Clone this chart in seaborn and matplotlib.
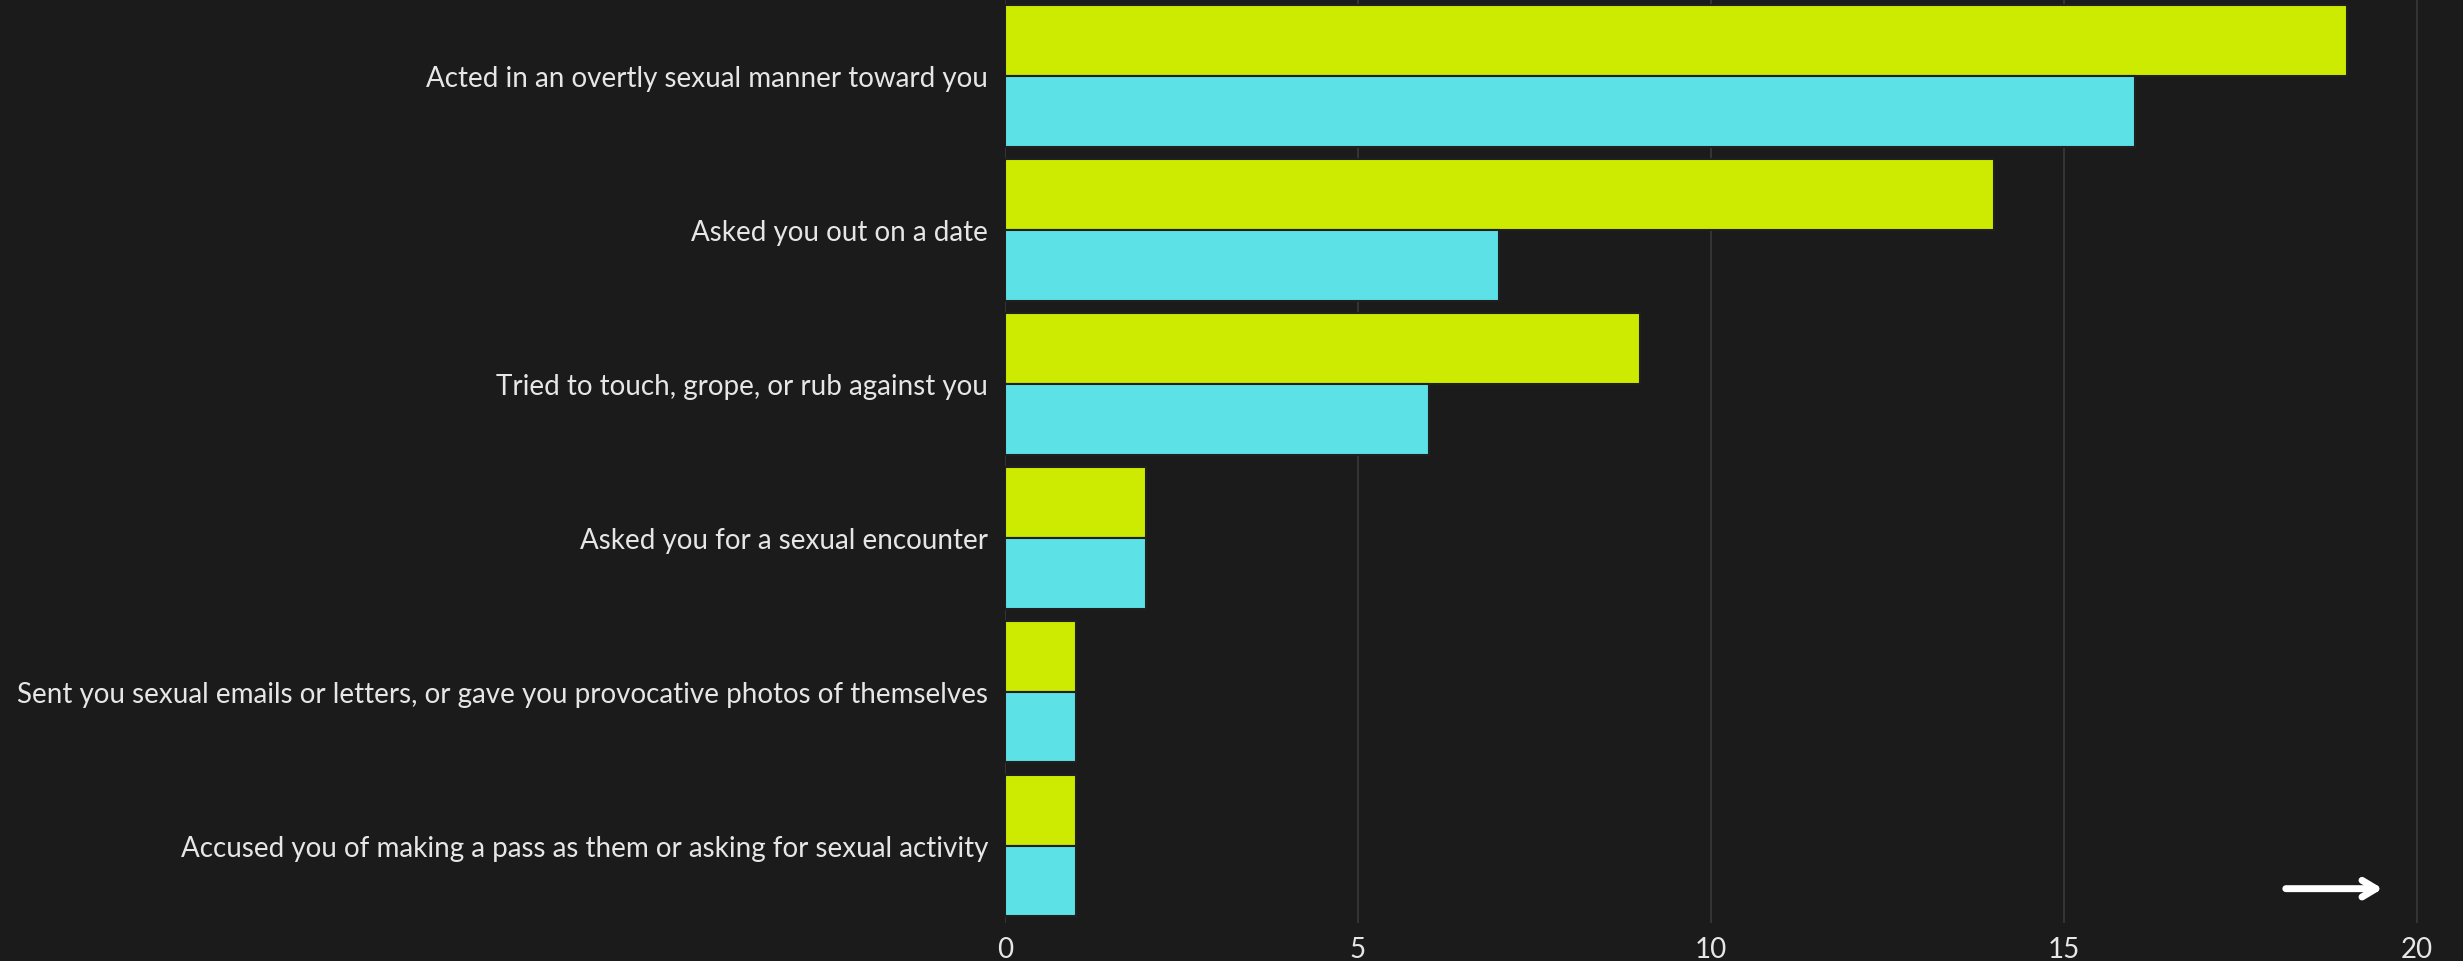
import pandas as pd
import numpy as np
import matplotlib.pyplot as plt
import seaborn as sns

categories = [
    "Acted in an overtly sexual manner toward you",
    "Asked you out on a date",
    "Tried to touch, grope, or rub against you",
    "Asked you for a sexual encounter",
    "Sent you sexual emails or letters, or gave you provocative photos of themselves",
    "Accused you of making a pass as them or asking for sexual activity",
]
series_names = ["Series A", "Series B"]
series_a = [19, 14, 9, 2, 1, 1]
series_b = [16, 7, 6, 2, 1, 1]
x_ticks = [0, 5, 10, 15, 20]

bg = "#1b1b1b"
sns.set_style("dark", {"axes.facecolor": bg, "figure.facecolor": bg})
plt.rcParams['font.family'] = ['Lato', 'DejaVu Sans']

df = pd.DataFrame({
    "category": categories * 2,
    "series": [series_names[0]] * len(categories) + [series_names[1]] * len(categories),
    "value": series_a + series_b,
})

fig = plt.figure(figsize=(24.63, 9.62), dpi=100)
ax = fig.add_axes([0.408, 0.04, 0.582, 0.96])

sns.barplot(data=df, y="category", x="value", hue="series", order=categories,
            palette=["#cdeb00", "#5ce1e6"], saturation=1, width=0.92,
            edgecolor="#202020", linewidth=1.5, legend=False, ax=ax, zorder=3)

ax.set_xlim(0, 20.3)
ax.set_ylim(5.5, -0.5)
ax.set_xticks(x_ticks)
ax.xaxis.grid(True, color="#3a3a3a", linewidth=1.2, zorder=0)
ax.yaxis.grid(False)
for s in ax.spines.values():
    s.set_visible(False)
ax.set_xlabel("")
ax.set_ylabel("")
ax.tick_params(axis="y", colors="#e6e6e6", labelsize=20, length=0, pad=12)
ax.tick_params(axis="x", colors="#e6e6e6", labelsize=20, length=0, pad=10)

# arrow hint in the bottom right corner
ax.annotate("", xy=(19.55, 5.28), xytext=(18.1, 5.28),
            arrowprops=dict(arrowstyle="->,head_length=1.0,head_width=0.6",
                            color="white", lw=5), annotation_clip=False)

fig.savefig("out.png", dpi=100, facecolor=bg)
